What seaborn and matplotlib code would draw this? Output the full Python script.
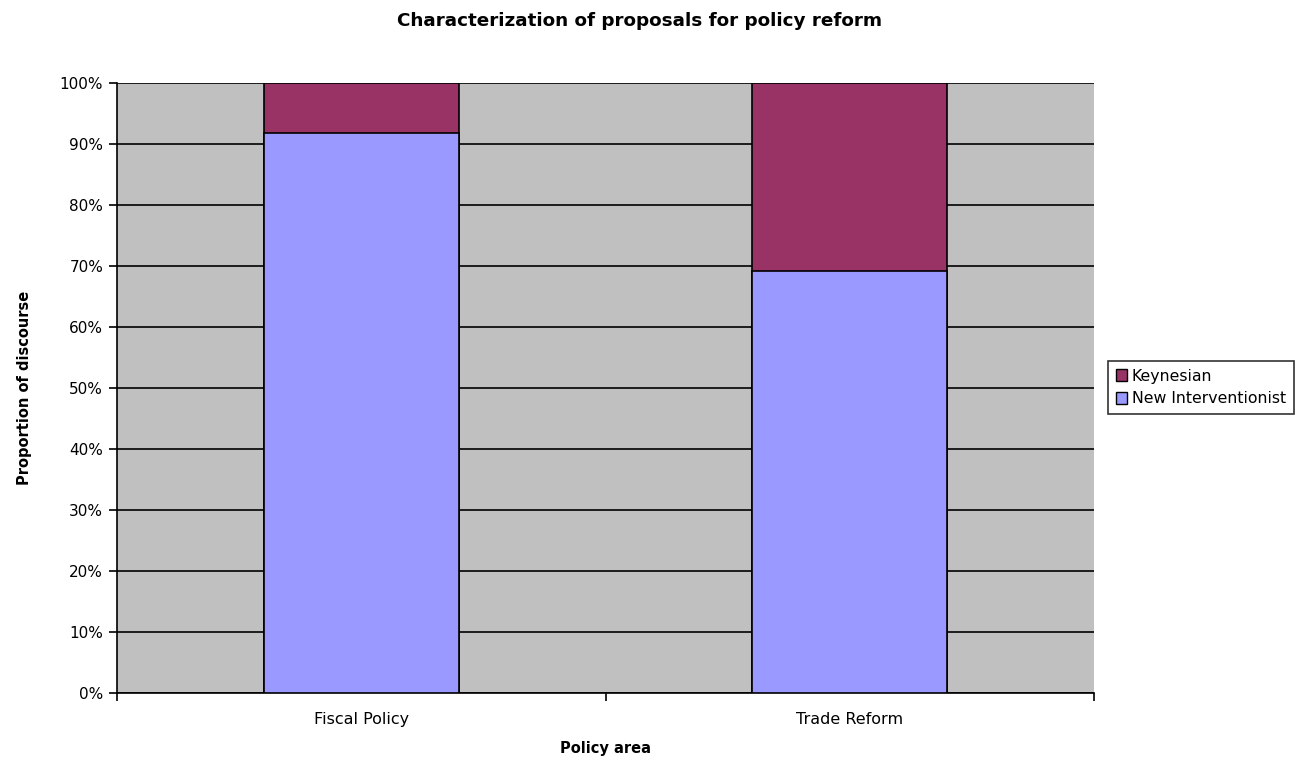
import matplotlib
matplotlib.use("Agg")
import matplotlib.pyplot as plt
import seaborn as sns
import pandas as pd
from matplotlib.ticker import MultipleLocator, PercentFormatter
from matplotlib.patches import Patch

# Share of discourse by policy area (percent)
policy_areas = ["Fiscal Policy", "Trade Reform"]
new_interventionist = [91.8, 69.2]
keynesian = [8.2, 30.8]

KEYN_COLOR = "#993366"
NEWI_COLOR = "#9999FF"
BG_COLOR = "#C0C0C0"

sns.set_theme(style="white")
plt.rcParams["font.family"] = ["DejaVu Sans"]
plt.rcParams["text.color"] = "black"
plt.rcParams["axes.labelcolor"] = "black"
plt.rcParams["xtick.color"] = "black"
plt.rcParams["ytick.color"] = "black"

df = pd.DataFrame({
    "area": policy_areas,
    "new": new_interventionist,
    "total": [a + b for a, b in zip(new_interventionist, keynesian)],
})

fig = plt.figure(figsize=(12.99, 7.62), dpi=100)
ax = fig.add_axes([0.0901, 0.0906, 0.7521, 0.8005])
ax.set_facecolor(BG_COLOR)

# Stacked bars: full stack in Keynesian colour, lower segment overlaid
sns.barplot(data=df, x="area", y="total", color=KEYN_COLOR, width=0.4,
            edgecolor="black", linewidth=1.2, saturation=1, ax=ax, zorder=3)
sns.barplot(data=df, x="area", y="new", color=NEWI_COLOR, width=0.4,
            edgecolor="black", linewidth=1.2, saturation=1, ax=ax, zorder=4)

ax.set_xlim(-0.5, 1.5)
ax.set_ylim(0, 100)
ax.yaxis.set_major_locator(MultipleLocator(10))
ax.yaxis.set_major_formatter(PercentFormatter(decimals=0))
ax.grid(axis="y", color="black", linewidth=1.2, zorder=1)
ax.set_axisbelow(True)

# Category ticks sit between groups; labels centred under bars
ax.set_xticks([-0.5, 0.5, 1.5])
ax.set_xticklabels([])
ax.set_xticks([0, 1], minor=True)
ax.set_xticklabels(policy_areas, minor=True)
ax.tick_params(axis="x", which="minor", length=0, pad=14, labelsize=11.5)
ax.tick_params(axis="x", which="major", length=6, width=1.2, color="black",
               direction="out", bottom=True)
ax.tick_params(axis="y", length=6, width=1.2, color="black", direction="out",
               left=True, labelsize=11, pad=4)

for side in ["top", "right"]:
    ax.spines[side].set_visible(False)
for side in ["left", "bottom"]:
    ax.spines[side].set_color("black")
    ax.spines[side].set_linewidth(1.2)

ax.set_xlabel("Policy area", fontsize=10.5, fontweight="bold", labelpad=10)
ax.set_ylabel("Proportion of discourse", fontsize=10.5, fontweight="bold",
              labelpad=20)
fig.text(0.4925, 0.972, "Characterization of proposals for policy reform",
         fontsize=13.2, fontweight="bold", ha="center", va="center")

handles = [Patch(facecolor=KEYN_COLOR, edgecolor="black", label="Keynesian"),
           Patch(facecolor=NEWI_COLOR, edgecolor="black",
                 label="New Interventionist")]
leg = fig.legend(handles=handles, loc="center left",
                 bbox_to_anchor=(0.853, 0.4915), fontsize=11.3, frameon=True,
                 fancybox=False, edgecolor="black", handlelength=0.7,
                 handleheight=0.8, handletextpad=0.3, borderpad=0.5,
                 labelspacing=0.5, borderaxespad=0)
leg.get_frame().set_linewidth(1.2)

fig.savefig("out.png", dpi=100)
